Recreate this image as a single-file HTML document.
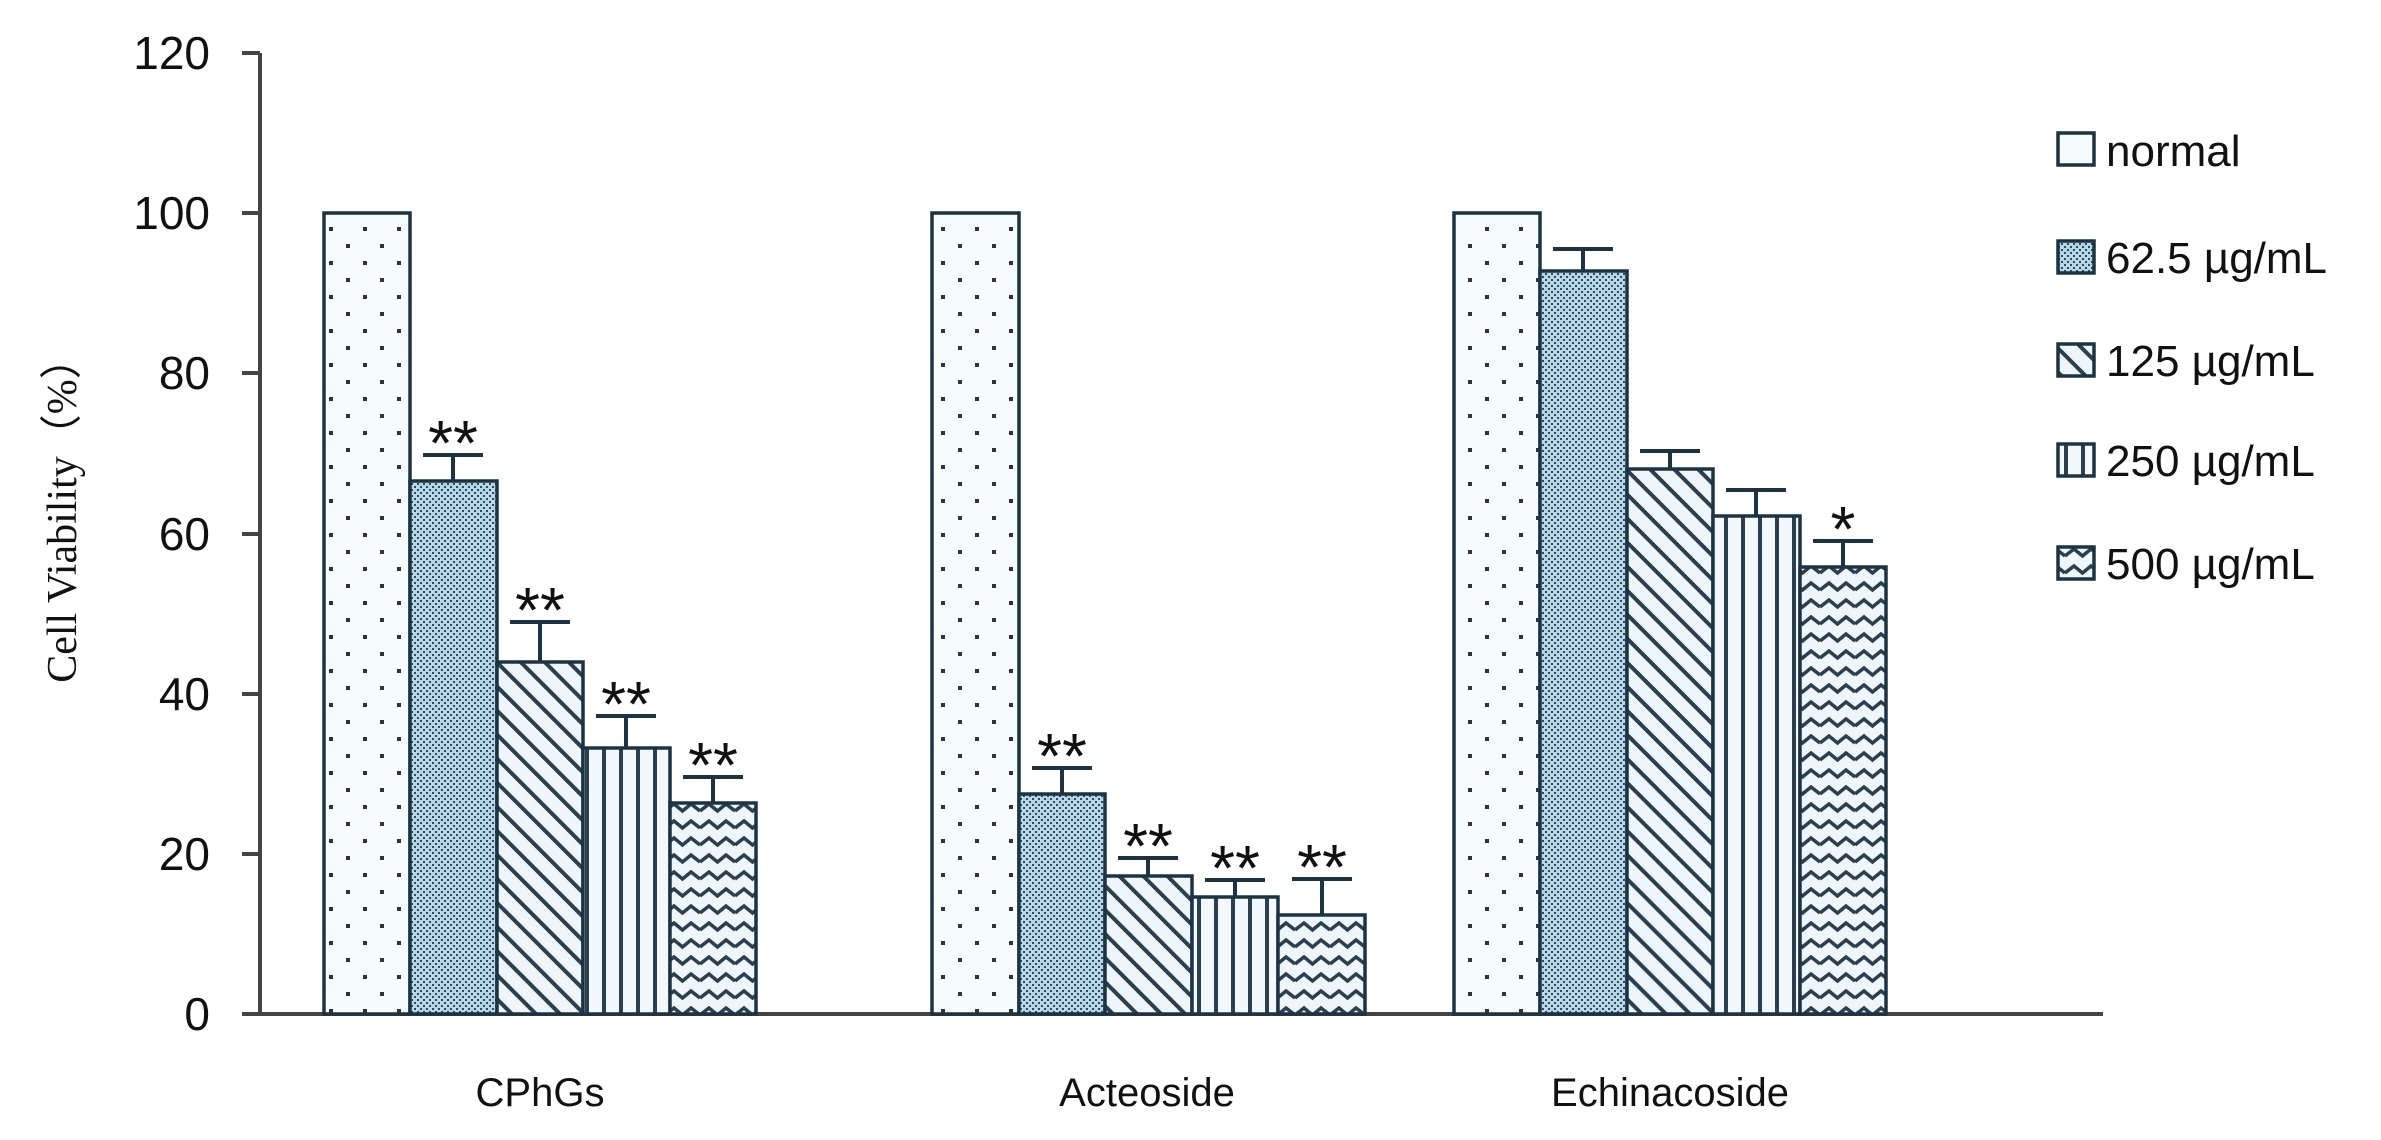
<!DOCTYPE html>
<html><head><meta charset="utf-8"><style>
html,body{margin:0;padding:0;background:#fff;}
svg{display:block;}
</style></head><body>
<svg width="2381" height="1140" viewBox="0 0 2381 1140" xmlns="http://www.w3.org/2000/svg">
<defs>
<pattern id="pDot" width="34" height="34" patternUnits="userSpaceOnUse">
<rect width="34" height="34" fill="#f6fbfd"/>
<rect x="6" y="6" width="4" height="4" fill="#333"/>
<rect x="23" y="23" width="4" height="4" fill="#333"/>
</pattern>
<pattern id="pFine" width="6" height="6" patternUnits="userSpaceOnUse">
<rect width="6" height="6" fill="#b7d6e6"/>
<rect x="0" y="0" width="2" height="2" fill="#2d4a60"/>
<rect x="3" y="3" width="2" height="2" fill="#2d4a60"/>
</pattern>
<pattern id="pDiag" width="17" height="17" patternUnits="userSpaceOnUse" patternTransform="rotate(-45)">
<rect width="17" height="17" fill="#eef6fa"/>
<rect x="0" y="0" width="4" height="17" fill="#2a3f50"/>
</pattern>
<pattern id="pVert" width="17" height="17" patternUnits="userSpaceOnUse">
<rect width="17" height="17" fill="#f2f8fb"/>
<rect x="7" y="0" width="4" height="17" fill="#2a3f50"/>
</pattern>
<pattern id="pZig" width="35" height="17" patternUnits="userSpaceOnUse">
<rect width="35" height="17" fill="#eef6fa"/>
<polyline points="0,12 9,5 17.5,12 26,5 35,12" fill="none" stroke="#2a3f50" stroke-width="3.5"/>
</pattern>
</defs>

<g stroke="#444" stroke-width="4" fill="none">
<line x1="260" y1="53" x2="260" y2="1014"/>
<line x1="242" y1="1014" x2="2103" y2="1014"/>
<line x1="242" y1="53" x2="260" y2="53"/>
<line x1="242" y1="213" x2="260" y2="213"/>
<line x1="242" y1="373" x2="260" y2="373"/>
<line x1="242" y1="534" x2="260" y2="534"/>
<line x1="242" y1="694" x2="260" y2="694"/>
<line x1="242" y1="854" x2="260" y2="854"/>
</g>
<g font-family="Liberation Sans, sans-serif" font-size="46" fill="#111" text-anchor="end">
<text x="210" y="69">120</text>
<text x="210" y="229">100</text>
<text x="210" y="389">80</text>
<text x="210" y="550">60</text>
<text x="210" y="710">40</text>
<text x="210" y="870">20</text>
<text x="210" y="1030">0</text>
</g>
<text transform="translate(76,510) rotate(-90)" font-family="Liberation Serif, serif" font-size="42" fill="#111" text-anchor="middle">Cell Viability（%）</text>

<g stroke="#1c3344" stroke-width="3.5">
<rect x="324" y="213" width="86" height="801" fill="url(#pDot)"/>
<rect x="410" y="481" width="87" height="533" fill="url(#pFine)"/>
<rect x="497" y="662" width="86" height="352" fill="url(#pDiag)"/>
<rect x="583" y="748" width="87" height="266" fill="url(#pVert)"/>
<rect x="670" y="803" width="86" height="211" fill="url(#pZig)"/>
<rect x="932" y="213" width="87" height="801" fill="url(#pDot)"/>
<rect x="1019" y="794" width="86" height="220" fill="url(#pFine)"/>
<rect x="1105" y="876" width="87" height="138" fill="url(#pDiag)"/>
<rect x="1192" y="897" width="86" height="117" fill="url(#pVert)"/>
<rect x="1278" y="915" width="87" height="99" fill="url(#pZig)"/>
<rect x="1454" y="213" width="86" height="801" fill="url(#pDot)"/>
<rect x="1540" y="271" width="87" height="743" fill="url(#pFine)"/>
<rect x="1627" y="469" width="86" height="545" fill="url(#pDiag)"/>
<rect x="1713" y="516" width="87" height="498" fill="url(#pVert)"/>
<rect x="1800" y="567" width="86" height="447" fill="url(#pZig)"/>
</g>

<g stroke="#1c3344" stroke-width="4" fill="none">
<path d="M453 481V455M423 455H483"/>
<path d="M540 662V622M510 622H570"/>
<path d="M626 748V716M596 716H656"/>
<path d="M713 803V777M683 777H743"/>
<path d="M1062 794V768M1032 768H1092"/>
<path d="M1148 876V858M1118 858H1178"/>
<path d="M1235 897V880M1205 880H1265"/>
<path d="M1322 915V879M1292 879H1352"/>
<path d="M1583 271V249M1553 249H1613"/>
<path d="M1670 469V451M1640 451H1700"/>
<path d="M1756 516V490M1726 490H1786"/>
<path d="M1843 567V541M1813 541H1873"/>
</g>

<g font-family="Liberation Sans, sans-serif" font-size="64" fill="#111" text-anchor="middle">
<text x="453" y="465">**</text>
<text x="540" y="632">**</text>
<text x="626" y="726">**</text>
<text x="713" y="787">**</text>
<text x="1062" y="778">**</text>
<text x="1148" y="868">**</text>
<text x="1235" y="890">**</text>
<text x="1322" y="889">**</text>
<text x="1843" y="551">*</text>
</g>

<g font-family="Liberation Sans, sans-serif" font-size="40" fill="#111" text-anchor="middle">
<text x="540" y="1106">CPhGs</text>
<text x="1147" y="1106">Acteoside</text>
<text x="1670" y="1106">Echinacoside</text>
</g>

<g stroke="#1c3344" stroke-width="3.5">
<rect x="2058" y="133" width="36" height="32" fill="#f6fbfd"/>
<rect x="2058" y="241" width="36" height="32" fill="url(#pFine)"/>
<rect x="2058" y="344" width="36" height="32" fill="url(#pDiag)"/>
<rect x="2058" y="444" width="36" height="32" fill="url(#pVert)"/>
<rect x="2058" y="547" width="36" height="32" fill="url(#pZig)"/>
</g>
<g font-family="Liberation Sans, sans-serif" font-size="44" fill="#111">
<text x="2106" y="166">normal</text>
<text x="2106" y="273">62.5 µg/mL</text>
<text x="2106" y="376">125 µg/mL</text>
<text x="2106" y="476">250 µg/mL</text>
<text x="2106" y="579">500 µg/mL</text>
</g>
</svg>
</body></html>
